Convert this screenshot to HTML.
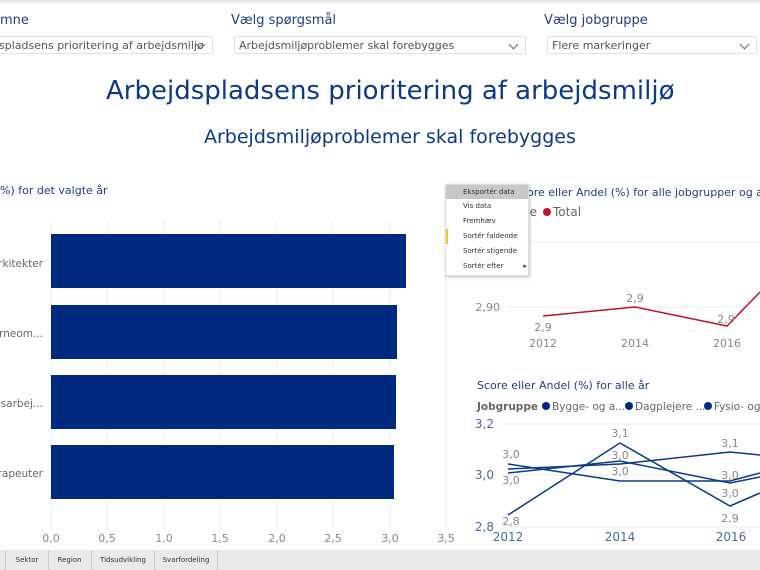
<!DOCTYPE html>
<html><head><meta charset="utf-8"><style>
body{margin:0;width:760px;height:570px;overflow:hidden;background:#fff;font-family:"DejaVu Sans","Liberation Sans",sans-serif;position:relative}
.a{position:absolute;white-space:nowrap}
.lbl{color:#1f3f7f;font-size:13px}
.dd{position:absolute;height:18px;border:1px solid #e1e1e1;font-size:11px;color:#555;line-height:18px;padding-left:4px;box-sizing:border-box;overflow:hidden;white-space:nowrap}
.dd:after{content:"";position:absolute;right:8px;top:4px;width:6px;height:6px;border-right:1px solid #666;border-bottom:1px solid #666;transform:rotate(45deg)}
</style></head><body>
<div class="a" style="left:0;top:0;width:760px;height:3px;background:#e8e8e8"></div>
<div class="a lbl" style="left:0;top:13px">mne</div>
<div class="a lbl" style="left:231px;top:13px">Vælg spørgsmål</div>
<div class="a lbl" style="left:544px;top:13px">Vælg jobgruppe</div>
<div class="dd" style="left:-6px;top:36px;width:219px;padding-right:24px">spladsens prioritering af arbejdsmiljø</div>
<div class="dd" style="left:234px;top:36px;width:292px">Arbejdsmiljøproblemer skal forebygges</div>
<div class="dd" style="left:547px;top:36px;width:210px">Flere markeringer</div>
<div class="a" style="left:106px;top:76px;font-size:26px;color:#0b3a8a">Arbejdspladsens prioritering af arbejdsmiljø</div>
<div class="a" style="left:204px;top:126px;font-size:19px;color:#0b3a8a">Arbejdsmiljøproblemer skal forebygges</div>
<div class="a" style="left:0;top:184px;font-size:11px;color:#1f3f7f">%) for det valgte år</div>
<svg class="a" style="left:0;top:0" width="760" height="570" font-family="DejaVu Sans, Liberation Sans, sans-serif">
<g stroke="#eeeeee" stroke-width="1">
<line x1="51" y1="220" x2="51" y2="530"/><line x1="107" y1="220" x2="107" y2="530"/><line x1="164" y1="220" x2="164" y2="530"/><line x1="220" y1="220" x2="220" y2="530"/><line x1="277" y1="220" x2="277" y2="530"/><line x1="333" y1="220" x2="333" y2="530"/><line x1="390" y1="220" x2="390" y2="530"/><line x1="446" y1="220" x2="446" y2="530"/>
</g>
<g fill="#002a7f"><rect x="51" y="234" width="355" height="54"/><rect x="51" y="305" width="346" height="54"/><rect x="51" y="375" width="345" height="54"/><rect x="51" y="445" width="343" height="54"/></g>
<g fill="#666" font-size="10.5" text-anchor="end"><text x="43" y="267">arkitekter</text><text x="43" y="337">ørneom...</text><text x="43" y="407">gsarbej...</text><text x="43" y="477">erapeuter</text></g>
<g fill="#888" font-size="11" text-anchor="middle"><text x="51" y="542">0,0</text><text x="107" y="542">0,5</text><text x="164" y="542">1,0</text><text x="220" y="542">1,5</text><text x="277" y="542">2,0</text><text x="333" y="542">2,5</text><text x="390" y="542">3,0</text><text x="446" y="542">3,5</text></g>
<text x="527" y="196" font-size="11" fill="#1f3f7f">ore eller Andel (%) for alle jobgrupper og alle år</text>
<text x="522" y="216" font-size="12" fill="#666">pe</text><circle cx="547" cy="212" r="4" fill="#c4122f"/><text x="553" y="216" font-size="12" fill="#666">Total</text>
<line x1="508" y1="242" x2="760" y2="242" stroke="#eee"/><line x1="508" y1="307" x2="760" y2="307" stroke="#eee"/>
<text x="500" y="311" font-size="11" fill="#888" text-anchor="end">2,90</text>
<polyline points="543,316 635,307 727,326 760,292" fill="none" stroke="#c4122f" stroke-width="1.5"/>
<g fill="#888" font-size="11" text-anchor="middle"><text x="543" y="331">2,9</text><text x="635" y="302">2,9</text><text x="726" y="323">2,9</text><text x="543" y="347">2012</text><text x="635" y="347">2014</text><text x="727" y="347">2016</text></g>
<text x="477" y="389" font-size="11" fill="#1f3f7f">Score eller Andel (%) for alle år</text>
<text x="477" y="410" font-size="10.5" fill="#666" font-weight="bold">Jobgruppe</text>
<g fill="#002a7f"><circle cx="546" cy="406" r="4"/><circle cx="629" cy="406" r="4"/><circle cx="708" cy="406" r="4"/></g>
<g fill="#666" font-size="10.5"><text x="552" y="410">Bygge- og a...</text><text x="635" y="410">Dagplejere ...</text><text x="714" y="410">Fysio- og</text></g>
<g stroke="#eee"><line x1="502" y1="424" x2="760" y2="424"/><line x1="502" y1="475" x2="760" y2="475"/><line x1="502" y1="527" x2="760" y2="527"/></g>
<g fill="#4a6aa5" font-size="12" text-anchor="end"><text x="494" y="428">3,2</text><text x="494" y="479">3,0</text><text x="494" y="531">2,8</text></g>
<g fill="none" stroke="#0b3a8a" stroke-width="1.5">
<polyline points="508,515 620,443 730,506 760,493"/>
<polyline points="508,469 620,464 730,452 760,455"/>
<polyline points="508,464 620,481 730,481 760,473"/>
<polyline points="508,473 620,461 730,483 760,477"/>
</g>
<g fill="#888" font-size="11" text-anchor="middle"><text x="511" y="458">3,0</text><text x="511" y="484">3,0</text><text x="511" y="525">2,8</text><text x="620" y="437">3,1</text><text x="620" y="459">3,0</text><text x="620" y="475">3,0</text><text x="730" y="447">3,1</text><text x="730" y="479">3,0</text><text x="730" y="497">3,0</text><text x="730" y="522">2,9</text></g>
<g fill="#4a6aa5" font-size="12" text-anchor="middle"><text x="508" y="541">2012</text><text x="620" y="541">2014</text><text x="731" y="541">2016</text></g>
</svg>
<div class="a" style="left:445px;top:184px;width:82px;height:90px;background:#fff;border:1px solid #ddd;box-shadow:1px 1px 3px rgba(0,0,0,.25);font-size:7px;color:#333">
<div style="background:#c8c8c8;height:14px;line-height:14px;padding-left:17px">Eksportér data</div>
<div style="height:15px;line-height:15px;padding-left:17px">Vis data</div>
<div style="height:15px;line-height:15px;padding-left:17px">Fremhæv</div>
<div style="height:15px;line-height:15px;padding-left:15px;border-left:2px solid #f2c811">Sortér faldende</div>
<div style="height:15px;line-height:15px;padding-left:17px">Sortér stigende</div>
<div style="height:15px;line-height:15px;padding-left:17px">Sortér efter &nbsp;&nbsp;&nbsp;&nbsp;&nbsp;&nbsp;&nbsp;&nbsp;▸</div>
</div>
<div class="a" style="left:0;top:550px;width:760px;height:20px;background:#eaeaea;font-size:7px;color:#333">
<div class="a" style="left:5px;top:0;width:42px;height:20px;line-height:20px;text-align:center;border-left:1px solid #ccc;border-right:1px solid #ccc">Sektor</div>
<div class="a" style="left:48px;top:0;width:43px;height:20px;line-height:20px;text-align:center;border-right:1px solid #ccc">Region</div>
<div class="a" style="left:92px;top:0;width:62px;height:20px;line-height:20px;text-align:center;border-right:1px solid #ccc">Tidsudvikling</div>
<div class="a" style="left:155px;top:0;width:62px;height:20px;line-height:20px;text-align:center;border-right:1px solid #ccc">Svarfordeling</div>
</div>
</body></html>
